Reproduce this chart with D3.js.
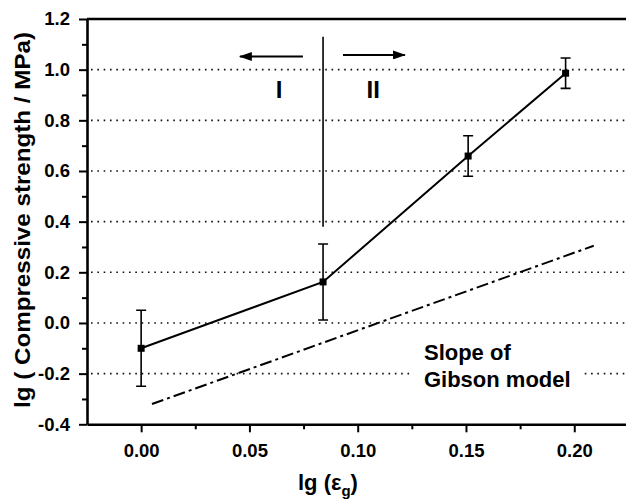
<!DOCTYPE html>
<html>
<head>
<meta charset="utf-8">
<script src="https://cdn.jsdelivr.net/npm/d3@7"></script>
<style>
  body { margin: 0; background: #fff; }
  text { font-family: "Liberation Sans", Arial, sans-serif; font-weight: bold; fill: #000; }
</style>
</head>
<body>
<svg id="chart" width="626" height="501"></svg>
<script>
// measured points, lg(eps_g) vs lg(strength)
var xVals = [0.0, 0.084, 0.151, 0.196];
var yVals = [-0.10, 0.162, 0.659, 0.986];
var yErr = [0.15, 0.15, 0.08, 0.06];

// Gibson model slope line (dash-dot)
var gibsonX = [0.005, 0.209];
var gibsonY = [-0.32, 0.305];

// regime boundary
var boundaryX = 0.084;
var boundaryY = [0.38, 1.13];

var xTicks = [0.00, 0.05, 0.10, 0.15, 0.20];
var xMinor = [0.025, 0.075, 0.125, 0.175, 0.225];
var yTicks = [-0.4, -0.2, 0.0, 0.2, 0.4, 0.6, 0.8, 1.0, 1.2];
var yMinor = [-0.3, -0.1, 0.1, 0.3, 0.5, 0.7, 0.9, 1.1];
var gridY = [-0.2, 0.0, 0.2, 0.4, 0.6, 0.8, 1.0];

var svg = d3.select("#chart");

var x = d3.scaleLinear().domain([-0.025, 0.225]).range([87, 628.4]);
var y = d3.scaleLinear().domain([-0.4, 1.2]).range([424.3, 19]);

// hyphen minus like the original
var fmtY = d => d3.format(".1f")(d).replace("\u2212", "-");

// dotted grid
svg.selectAll(".grid")
  .data(gridY)
  .enter()
  .append("line")
  .attr("x1", x(-0.025) + 4)
  .attr("x2", 626)
  .attr("y1", d => y(d))
  .attr("y2", d => y(d))
  .attr("stroke", "#111")
  .attr("stroke-width", 1.6)
  .attr("stroke-dasharray", "1.6,4.73");

// white box behind the annotation
svg.append("rect")
  .attr("x", 412).attr("y", 340)
  .attr("width", 170).attr("height", 55)
  .attr("fill", "#fff");

svg.append("text")
  .attr("x", x(0.1306)).attr("y", y(-0.145))
  .style("font-size", "22px")
  .text("Slope of");
svg.append("text")
  .attr("x", x(0.1306)).attr("y", y(-0.254))
  .style("font-size", "22px")
  .text("Gibson model");

// minor ticks
svg.append("g")
  .attr("transform", "translate(0," + y(-0.4) + ")")
  .call(d3.axisBottom(x).tickValues(xMinor).tickSize(5).tickFormat(""))
  .call(g => g.select(".domain").remove())
  .selectAll("line").attr("stroke-width", 2);
svg.append("g")
  .attr("transform", "translate(" + x(-0.025) + ",0)")
  .call(d3.axisLeft(y).tickValues(yMinor).tickSize(5).tickFormat(""))
  .call(g => g.select(".domain").remove())
  .selectAll("line").attr("stroke-width", 2);

// major axes
var xAxis = svg.append("g")
  .attr("transform", "translate(0," + y(-0.4) + ")")
  .call(d3.axisBottom(x).tickValues(xTicks).tickSize(8).tickSizeOuter(0).tickPadding(12).tickFormat(d3.format(".2f")));
xAxis.select(".domain").attr("stroke-width", 2.6);
xAxis.selectAll(".tick line").attr("stroke-width", 2);
xAxis.selectAll("text").style("font-size", "18.5px").attr("font-family", null);

var yAxis = svg.append("g")
  .attr("transform", "translate(" + x(-0.025) + ",0)")
  .call(d3.axisLeft(y).tickValues(yTicks).tickSize(8).tickSizeOuter(0).tickPadding(9).tickFormat(fmtY));
yAxis.select(".domain").attr("stroke-width", 2.6);
yAxis.selectAll(".tick line").attr("stroke-width", 2);
yAxis.selectAll("text").style("font-size", "18.5px").attr("font-family", null);

// top frame
svg.append("line")
  .attr("x1", x(-0.025)).attr("x2", 626)
  .attr("y1", y(1.2)).attr("y2", y(1.2))
  .attr("stroke", "#000").attr("stroke-width", 2.6);

// Gibson slope line
svg.append("line")
  .attr("x1", x(gibsonX[0])).attr("y1", y(gibsonY[0]))
  .attr("x2", x(gibsonX[1])).attr("y2", y(gibsonY[1]))
  .attr("stroke", "#000").attr("stroke-width", 2)
  .attr("stroke-dasharray", "12,4,3,4");

// boundary line
svg.append("line")
  .attr("x1", x(boundaryX)).attr("x2", x(boundaryX))
  .attr("y1", y(boundaryY[0])).attr("y2", y(boundaryY[1]))
  .attr("stroke", "#000").attr("stroke-width", 1.6);

// arrows
var defs = svg.append("defs");
defs.append("marker")
  .attr("id", "head")
  .attr("viewBox", "0 0 13 9")
  .attr("refX", 12).attr("refY", 4.5)
  .attr("markerWidth", 13).attr("markerHeight", 9)
  .attr("markerUnits", "userSpaceOnUse")
  .attr("orient", "auto")
  .append("path").attr("d", "M0,0L13,4.5L0,9Z").attr("fill", "#000");

svg.append("line")
  .attr("x1", x(0.0747)).attr("y1", y(1.052))
  .attr("x2", x(0.0456)).attr("y2", y(1.052))
  .attr("stroke", "#000").attr("stroke-width", 2)
  .attr("marker-end", "url(#head)");
svg.append("line")
  .attr("x1", x(0.0932)).attr("y1", y(1.058))
  .attr("x2", x(0.1218)).attr("y2", y(1.058))
  .attr("stroke", "#000").attr("stroke-width", 2)
  .attr("marker-end", "url(#head)");

svg.append("text")
  .attr("x", x(0.0637)).attr("y", y(0.889))
  .attr("text-anchor", "middle").style("font-size", "24px")
  .text("I");
svg.append("text")
  .attr("x", x(0.1072)).attr("y", y(0.889))
  .attr("text-anchor", "middle").style("font-size", "24px")
  .text("II");

// data line
var pts = xVals.map((d, i) => [d, yVals[i], yErr[i]]);
svg.append("path")
  .datum(pts)
  .attr("d", d3.line().x(d => x(d[0])).y(d => y(d[1])))
  .attr("fill", "none")
  .attr("stroke", "#000")
  .attr("stroke-width", 2);

// error bars
var capW = 5;
svg.selectAll(".err")
  .data(pts)
  .enter()
  .append("path")
  .attr("d", d => {
    var cx = x(d[0]), t = y(d[1] + d[2]), b = y(d[1] - d[2]);
    return "M" + cx + "," + t + "V" + b +
      "M" + (cx - capW) + "," + t + "H" + (cx + capW) +
      "M" + (cx - capW) + "," + b + "H" + (cx + capW);
  })
  .attr("fill", "none")
  .attr("stroke", "#000")
  .attr("stroke-width", 1.6);

// square markers
var sq = 7;
svg.selectAll(".pt")
  .data(pts)
  .enter()
  .append("rect")
  .attr("x", d => x(d[0]) - sq / 2)
  .attr("y", d => y(d[1]) - sq / 2)
  .attr("width", sq).attr("height", sq)
  .attr("fill", "#000");

// axis titles
svg.append("text")
  .attr("transform", "translate(30," + 220 + ")rotate(-90)")
  .attr("text-anchor", "middle")
  .style("font-size", "22px")
  .attr("textLength", 376)
  .attr("lengthAdjust", "spacingAndGlyphs")
  .text("lg ( Compressive strength / MPa)");

var xt = svg.append("text")
  .attr("x", 298).attr("y", 490)
  .style("font-size", "22px");
xt.append("tspan").text("lg (ε");
xt.append("tspan").attr("dy", 6).style("font-size", "15px").text("g");
xt.append("tspan").attr("dy", -6).text(")");
</script>
</body>
</html>
